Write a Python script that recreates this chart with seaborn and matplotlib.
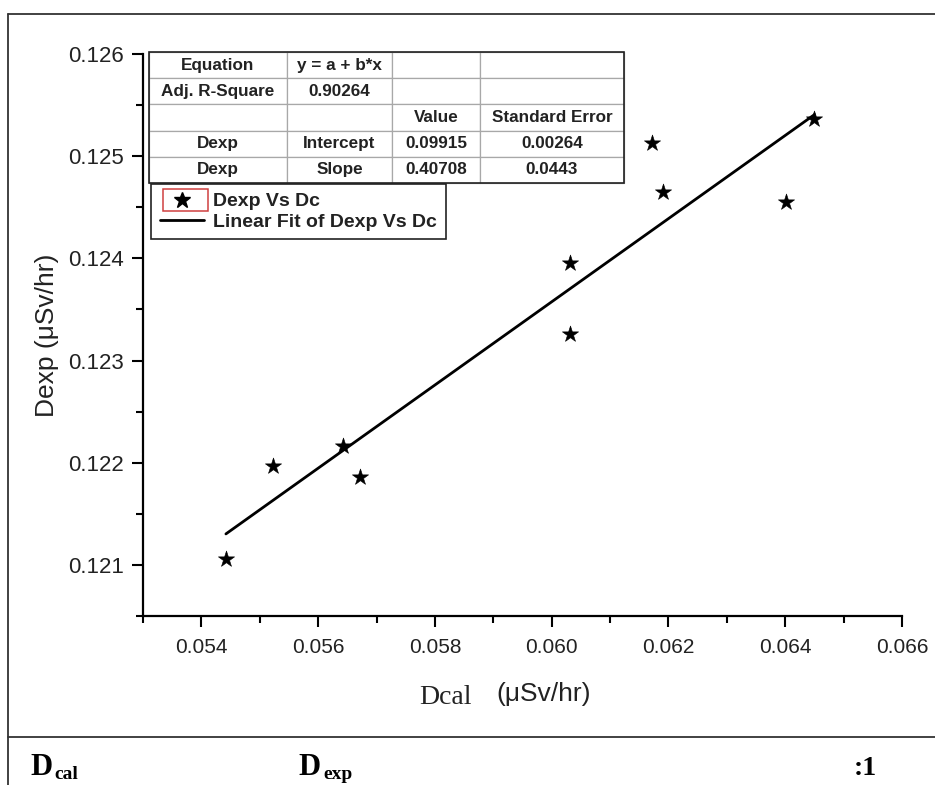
import numpy as np
import pandas as pd
import matplotlib
matplotlib.use("Agg")
import matplotlib.pyplot as plt
from matplotlib import font_manager
from matplotlib.lines import Line2D
from matplotlib.patches import Rectangle
import seaborn as sns

# values
dcal = [0.05442, 0.05522, 0.05643, 0.05672, 0.06032, 0.06032, 0.06171, 0.06191, 0.06401, 0.06450]
dexp = [0.12106, 0.12197, 0.12216, 0.12186, 0.12395, 0.12326, 0.12513, 0.12465, 0.12455, 0.12536]

intercept = 0.09915
slope = 0.40708

table_rows = [
    ["Equation", "y = a + b*x", "", ""],
    ["Adj. R-Square", "0.90264", "", ""],
    ["", "", "Value", "Standard Error"],
    ["Dexp", "Intercept", "0.09915", "0.00264"],
    ["Dexp", "Slope", "0.40708", "0.0443"],
]
table_col_px = [138, 105, 88, 144]

x_ticks = [0.054, 0.056, 0.058, 0.060, 0.062, 0.064, 0.066]
y_ticks = [0.121, 0.122, 0.123, 0.124, 0.125, 0.126]
legend_labels = ["Dexp Vs Dc", "Linear Fit of Dexp Vs Dc"]

W, H = 935, 785


def has_font(name):
    try:
        font_manager.findfont(font_manager.FontProperties(family=name), fallback_to_default=False)
        return True
    except Exception:
        return False


narrow = "Liberation Sans Narrow" if has_font("Liberation Sans Narrow") else "Liberation Sans"
narrow_size = 17 if narrow == "Liberation Sans Narrow" else 15

sns.set_style("ticks")
plt.rcParams["font.family"] = ["Liberation Sans", "DejaVu Sans"]

df = pd.DataFrame({"Dcal": dcal, "Dexp": dexp})
fit_x = [min(dcal), max(dcal)]
fit = pd.DataFrame({"Dcal": fit_x, "Dexp": [intercept + slope * v for v in fit_x]})

fig = plt.figure(figsize=(W / 100, H / 100), dpi=100)
ax = fig.add_axes([143 / W, 1 - 616 / H, 759 / W, 562 / H])

sns.lineplot(data=fit, x="Dcal", y="Dexp", color="black", lw=2.0, ax=ax, zorder=2)
sns.scatterplot(data=df, x="Dcal", y="Dexp", marker="*", s=150, color="black",
                edgecolor="black", linewidth=0.4, ax=ax, zorder=3)

ax.set_xlim(0.053, 0.066)
ax.set_ylim(0.1205, 0.126)
ax.set_xticks(x_ticks)
ax.set_xticklabels([f"{v:.3f}" for v in x_ticks], fontsize=narrow_size, family=narrow, color="#222222")
ax.set_yticks(y_ticks)
ax.set_yticklabels([f"{v:.3f}" for v in y_ticks], fontsize=16, color="#222222")
ax.set_xticks(np.arange(0.053, 0.0665, 0.001), minor=True)
ax.set_yticks(np.arange(0.1205, 0.1262, 0.0005), minor=True)
ax.tick_params(axis="both", which="major", direction="out", length=8, width=1.5, color="black")
ax.tick_params(axis="both", which="minor", direction="out", length=5, width=1.5, color="black")
ax.tick_params(axis="x", which="major", pad=8)
ax.tick_params(axis="y", which="major", pad=6)
sns.despine(ax=ax)
for side in ["left", "bottom"]:
    ax.spines[side].set_linewidth(1.6)
    ax.spines[side].set_color("black")

ax.set_xlabel("")
ax.set_ylabel("Dexp (μSv/hr)", fontsize=19, color="#222222")
ax.yaxis.set_label_coords((59 - 143) / 759, 0.5)

# x label mixes a serif and a sans part
fig.text(445 / W, 1 - 697 / H, "Dcal", fontsize=20, family="Liberation Serif",
         ha="center", va="center", color="#222222")
fig.text(544 / W, 1 - 694 / H, "(μSv/hr)", fontsize=19, family=narrow,
         ha="center", va="center", color="#222222")

# fit results table
tw = sum(table_col_px)
tbl = ax.table(cellText=table_rows, cellLoc="center",
               colWidths=[c / tw for c in table_col_px],
               bbox=[(149 - 143) / 759, (616 - 183) / 562, tw / 759, 131 / 562])
tbl.auto_set_font_size(False)
for (r, c), cell in tbl.get_celld().items():
    cell.set_edgecolor("#a8a8a8")
    cell.set_linewidth(0.9)
    cell.set_facecolor("white")
    cell.get_text().set_fontsize(12.3)
    cell.get_text().set_fontweight("bold")
    cell.get_text().set_color("#222222")
tbl.set_zorder(5)
ax.add_patch(Rectangle(((149 - 143) / 759, (616 - 183) / 562), tw / 759, 131 / 562,
                       transform=ax.transAxes, fill=False, edgecolor="#222222", lw=1.2,
                       clip_on=False, zorder=6))

# legend
handles = [Line2D([], [], marker="*", color="black", linestyle="none", markersize=12),
           Line2D([], [], color="black", lw=2.0)]
leg = ax.legend(handles, legend_labels, loc="upper left",
                bbox_to_anchor=((151 - 143) / 759, (616 - 184) / 562), borderaxespad=0,
                frameon=True, fancybox=False, framealpha=1, edgecolor="#222222",
                prop={"family": "Liberation Sans", "weight": "bold", "size": 14},
                handlelength=2.3, handletextpad=0.45, borderpad=0.45, labelspacing=0.14)
leg.get_frame().set_linewidth(1.2)
for t in leg.get_texts():
    t.set_color("#222222")
leg.set_zorder(6)
fig.add_artist(Rectangle((163 / W, 1 - 211 / H), 45 / W, 22 / H, transform=fig.transFigure,
                         fill=False, edgecolor="#d04040", lw=1.1, zorder=7))

# page frame and caption row
frame = dict(transform=fig.transFigure, color="#333333", lw=1.3)
fig.add_artist(Line2D([8 / W, 1], [1 - 14 / H, 1 - 14 / H], **frame))
fig.add_artist(Line2D([8 / W, 8 / W], [0, 1 - 14 / H], **frame))
fig.add_artist(Line2D([8 / W, 1], [1 - 737 / H, 1 - 737 / H], **frame))

cap = dict(family="Liberation Serif", weight="bold", color="black")
fig.text(30 / W, 1 - 775 / H, "D", fontsize=22, ha="left", va="baseline", **cap)
fig.text(54 / W, 1 - 779 / H, "cal", fontsize=14, ha="left", va="baseline", **cap)
fig.text(298 / W, 1 - 775 / H, "D", fontsize=22, ha="left", va="baseline", **cap)
fig.text(323 / W, 1 - 779 / H, "exp", fontsize=14, ha="left", va="baseline", **cap)
fig.text(877 / W, 1 - 775 / H, ":1", fontsize=20, ha="right", va="baseline", **cap)

fig.savefig("out.png", dpi=100, facecolor="white")
